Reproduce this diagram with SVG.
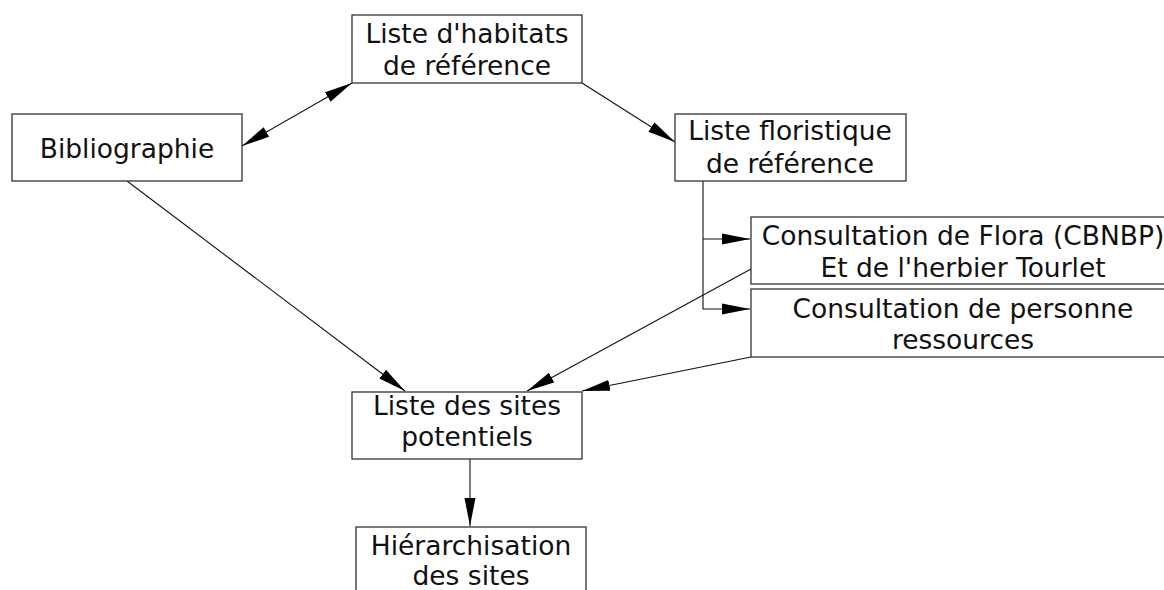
<svg xmlns="http://www.w3.org/2000/svg" width="1164" height="590" viewBox="0 0 1164 590">
<style>
.box{fill:#fff;stroke:#333;stroke-width:1.3}
.t{font-family:"DejaVu Sans",Verdana,sans-serif;font-size:26.5px;fill:#111;text-anchor:middle}
.c{fill:none;stroke:#111;stroke-width:1.1}
</style>
<defs>
<marker id="ah" markerUnits="userSpaceOnUse" markerWidth="30" markerHeight="12" refX="28" refY="6" orient="auto" viewBox="0 0 30 12">
<path d="M0,0.5 L28,6 L0,11.5 Z" fill="#000"/>
</marker>
<marker id="as" markerUnits="userSpaceOnUse" markerWidth="30" markerHeight="12" refX="0" refY="6" orient="auto" viewBox="0 0 30 12">
<path d="M28,0.5 L0,6 L28,11.5 Z" fill="#000"/>
</marker>
</defs>
<rect width="1164" height="590" fill="#fff"/>
<g id="connectors">
<line class="c" x1="242" y1="146" x2="352" y2="83" marker-start="url(#as)" marker-end="url(#ah)"/>
<line class="c" x1="582" y1="83" x2="675" y2="142" marker-end="url(#ah)"/>
<polyline class="c" points="703,181 703,309 750,309" marker-end="url(#ah)"/>
<line class="c" x1="703" y1="239" x2="750" y2="239" marker-end="url(#ah)"/>
<line class="c" x1="127" y1="181" x2="405" y2="391" marker-end="url(#ah)"/>
<line class="c" x1="751" y1="269" x2="527" y2="391" marker-end="url(#ah)"/>
<line class="c" x1="751" y1="357" x2="582" y2="391" marker-end="url(#ah)"/>
<line class="c" x1="470" y1="459" x2="470" y2="526" marker-end="url(#ah)"/>
</g>
<g id="habitats">
<rect class="box" x="352" y="15" width="230" height="68"/>
<text class="t" x="467" y="43">Liste d'habitats</text>
<text class="t" x="467" y="75">de référence</text>
</g>
<g id="bibliographie">
<rect class="box" x="12" y="114" width="230" height="67"/>
<text class="t" x="127" y="158">Bibliographie</text>
</g>
<g id="floristique">
<rect class="box" x="675" y="114" width="231" height="67"/>
<text class="t" x="790" y="140">Liste floristique</text>
<text class="t" x="790" y="173">de référence</text>
</g>
<g id="flora">
<rect class="box" x="751" y="217" width="424" height="67"/>
<text class="t" x="963" y="245">Consultation de Flora (CBNBP)</text>
<text class="t" x="963" y="277">Et de l'herbier Tourlet</text>
</g>
<g id="personnes">
<rect class="box" x="751" y="289" width="424" height="68"/>
<text class="t" x="963" y="318">Consultation de personne</text>
<text class="t" x="963" y="349">ressources</text>
</g>
<g id="sites">
<rect class="box" x="352" y="392" width="230" height="67"/>
<text class="t" x="467" y="415">Liste des sites</text>
<text class="t" x="467" y="446">potentiels</text>
</g>
<g id="hierarchisation">
<rect class="box" x="356" y="527" width="230" height="80"/>
<text class="t" x="471" y="555">Hiérarchisation</text>
<text class="t" x="471" y="585">des sites</text>
</g>
</svg>
